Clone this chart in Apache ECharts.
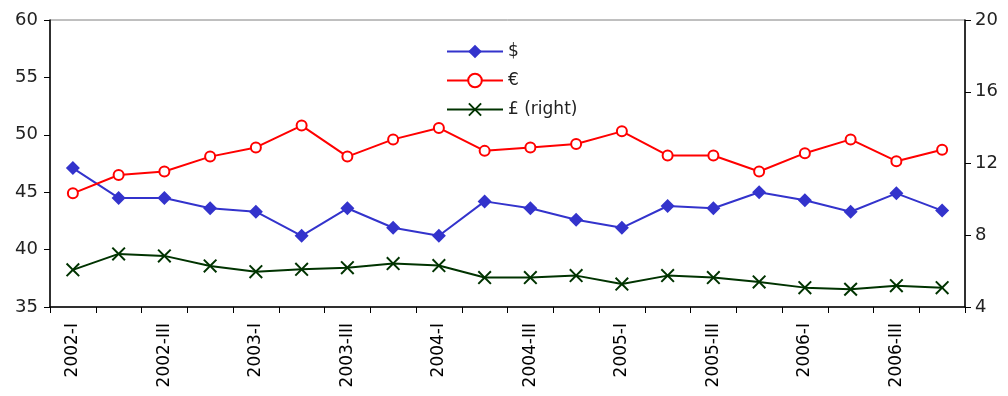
<!DOCTYPE html>
<html>
<head>
<meta charset="utf-8">
<script src="https://cdn.jsdelivr.net/npm/echarts@6/dist/echarts.min.js"></script>
<style>
  html, body { margin: 0; padding: 0; background: #fff; }
  #chart { width: 1008px; height: 396px; }
</style>
</head>
<body>
<div id="chart"></div>
<script>
// quarters 2002-I .. 2006-IV
var quarters = ['2002-I','2002-II','2002-III','2002-IV',
                '2003-I','2003-II','2003-III','2003-IV',
                '2004-I','2004-II','2004-III','2004-IV',
                '2005-I','2005-II','2005-III','2005-IV',
                '2006-I','2006-II','2006-III','2006-IV'];

// left axis
var dollar = [47.1, 44.5, 44.5, 43.6, 43.3, 41.2, 43.6, 41.9, 41.2, 44.2,
              43.6, 42.6, 41.9, 43.8, 43.6, 45.0, 44.3, 43.3, 44.9, 43.4];
var euro   = [44.9, 46.5, 46.8, 48.1, 48.9, 50.8, 48.1, 49.6, 50.6, 48.6,
              48.9, 49.2, 50.3, 48.2, 48.2, 46.8, 48.4, 49.6, 47.7, 48.7];
// right axis
var pound  = [6.07, 6.96, 6.85, 6.29, 5.97, 6.10, 6.19, 6.42, 6.31, 5.64,
              5.64, 5.75, 5.28, 5.75, 5.64, 5.40, 5.08, 4.99, 5.19, 5.08];

var FONT = 'DejaVu Sans';
var crossPath = 'path://M0,1L1,0L5,4L9,0L10,1L6,5L10,9L9,10L5,6L1,10L0,9L4,5Z';

var chart = echarts.init(document.getElementById('chart'));

var option = {
  animation: false,
  textStyle: { fontFamily: FONT },
  grid: {
    left: 50, right: 43, top: 20, bottom: 89,
    show: true, borderColor: '#808080', borderWidth: 1
  },
  legend: {
    orient: 'vertical',
    left: 441, top: 38,
    itemWidth: 56, itemHeight: 17, itemGap: 12,
    textStyle: { fontFamily: FONT, fontSize: 17, color: '#222' },
    data: ['$', '€', '£ (right)']
  },
  xAxis: {
    type: 'category',
    data: quarters,
    boundaryGap: true,
    axisLine: { lineStyle: { color: '#000', width: 1.5 } },
    axisTick: { show: true, interval: 0, length: 6, lineStyle: { color: '#000' } },
    axisLabel: { interval: 1, rotate: 90, fontSize: 17, color: '#000', margin: 16, fontFamily: FONT },
    splitLine: { show: false }
  },
  yAxis: [
    {
      type: 'value', min: 35, max: 60, interval: 5,
      axisLine: { show: true, lineStyle: { color: '#000', width: 1.5 } },
      axisTick: { show: true, length: 6, lineStyle: { color: '#000' } },
      axisLabel: { fontSize: 18, color: '#222', margin: 12, fontFamily: FONT },
      splitLine: { show: false }
    },
    {
      type: 'value', min: 4, max: 20, interval: 4,
      position: 'right',
      axisLine: { show: true, lineStyle: { color: '#000', width: 1.5 } },
      axisTick: { show: true, length: 6, lineStyle: { color: '#000' } },
      axisLabel: { fontSize: 18, color: '#222', margin: 10, fontFamily: FONT },
      splitLine: { show: false }
    }
  ],
  series: [
    {
      name: '$', type: 'line', data: dollar, yAxisIndex: 0,
      symbol: 'diamond', symbolSize: 14, showAllSymbol: true,
      lineStyle: { color: '#3333cc', width: 2 },
      itemStyle: { color: '#3333cc' }
    },
    {
      name: '€', type: 'line', data: euro, yAxisIndex: 0,
      symbol: 'emptyCircle', symbolSize: 10, showAllSymbol: true,
      lineStyle: { color: '#ff0000', width: 2 },
      itemStyle: { color: '#ff0000', borderWidth: 2 }
    },
    {
      name: '£ (right)', type: 'line', data: pound, yAxisIndex: 1,
      symbol: crossPath, symbolSize: 14, showAllSymbol: true,
      lineStyle: { color: '#003300', width: 2 },
      itemStyle: { color: '#003300' }
    }
  ]
};

chart.setOption(option);
</script>
</body>
</html>
